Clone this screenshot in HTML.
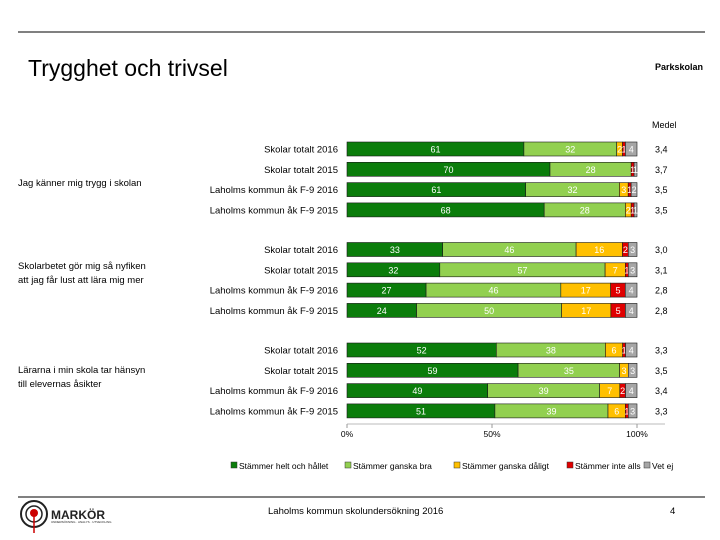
<!DOCTYPE html>
<html><head><meta charset="utf-8"><style>
html,body{margin:0;padding:0;background:#fff}
svg{display:block;font-family:"Liberation Sans",sans-serif}
</style></head><body>
<svg id="chart" width="720" height="540" viewBox="0 0 720 540">
<line x1="18" y1="32" x2="705" y2="32" stroke="#000" stroke-width="1"/>
<text x="28" y="76" font-size="23" fill="#000">Trygghet och trivsel</text>
<text x="655" y="70" font-size="9" font-weight="bold">Parkskolan</text>
<text x="652" y="128" font-size="9">Medel</text>
<text x="18" y="186" font-size="9.5">Jag känner mig trygg i skolan</text>
<text x="18" y="269" font-size="9.5">Skolarbetet gör mig så nyfiken</text>
<text x="18" y="283" font-size="9.5">att jag får lust att lära mig mer</text>
<text x="18" y="373" font-size="9.5">Lärarna i min skola tar hänsyn</text>
<text x="18" y="387" font-size="9.5">till elevernas åsikter</text>
<g id="bars"></g>
<line x1="347" y1="424" x2="665" y2="424" stroke="#bbb"/>
<g id="xticks"></g>
<g id="legend"></g>
<line x1="18" y1="497" x2="705" y2="497" stroke="#000" stroke-width="1"/>
<g>
<circle cx="34" cy="514" r="13" fill="none" stroke="#222" stroke-width="2"/>
<circle cx="34" cy="514" r="8" fill="none" stroke="#222" stroke-width="1.5"/>
<circle cx="34" cy="513" r="4" fill="#c00"/>
<line x1="34" y1="516" x2="34" y2="533" stroke="#c00" stroke-width="1.5"/>
<text x="51" y="519" font-size="12" font-weight="bold" fill="#222">MARKÖR</text>
<text x="51" y="523" font-size="3" fill="#222">UNDERSÖKNING · ANALYS · UTVECKLING</text>
</g>
<text x="268" y="514" font-size="9.5">Laholms kommun skolundersökning 2016</text>
<text x="670" y="514" font-size="9.5">4</text>
</svg>
<script>
const rowLabels = ["Skolar totalt 2016","Skolar totalt 2015","Laholms kommun åk F-9 2016","Laholms kommun åk F-9 2015"];
const helt   = [61,70,61,68, 33,32,27,24, 52,59,49,51];
const ganska = [32,28,32,28, 46,57,46,50, 38,35,39,39];
const daligt = [2,0,3,2, 16,7,17,17, 6,3,7,6];
const inte   = [1,1,1,1, 2,1,5,5, 1,0,2,1];
const vetej  = [4,1,2,1, 3,3,4,4, 4,3,4,3];
const means  = ["3,4","3,7","3,5","3,5","3,0","3,1","2,8","2,8","3,3","3,5","3,4","3,3"];
const tickLabels = ["0%","50%","100%"];
const tickValues = [0,50,100];
const seriesNames = ["Stämmer helt och hållet","Stämmer ganska bra","Stämmer ganska dåligt","Stämmer inte alls","Vet ej"];
const colors = ["#0b7d0b","#92d050","#ffc000","#e00000","#a6a6a6"];
const textColors = ["#fff","#fff","#fff","#fff","#fff"];
const series = [helt,ganska,daligt,inte,vetej];
const NS="http://www.w3.org/2000/svg";
const x0=347, x1=637;
const xs = v => x0 + (x1-x0)*v/100;
const rowY = i => { const g=Math.floor(i/4), r=i%4; return 142 + g*100.5 + r*20.3; };
const barH=14;
function mk(tag,attrs,parent){const e=document.createElementNS(NS,tag);for(const k in attrs)e.setAttribute(k,attrs[k]);parent.appendChild(e);return e;}
const bars=document.getElementById('bars');
for(let i=0;i<helt.length;i++){
  const y=rowY(i);
  const lab=mk('text',{x:338,y:y+10.5,'font-size':9.5,'text-anchor':'end'},bars);
  lab.textContent=rowLabels[i%4];
  
  
  const tot=series.reduce((s,a)=>s+a[i],0);
  let acc=0;
  for(let s=0;s<5;s++){
    const v=series[s][i]; if(v<=0) continue;
    const a=xs(acc*100/tot), b=xs((acc+v)*100/tot);
    const r=mk('rect',{x:a,y:y,width:b-a,height:barH,fill:colors[s],stroke:'#1a1a1a','stroke-width':0.6},bars);
    
    
    const t=mk('text',{x:(a+b)/2,y:y+10.5,'font-size':9,'text-anchor':'middle',fill:textColors[s]},bars);
    t.textContent=v;
    
    
    acc+=v;
  }
  const m=mk('text',{x:655,y:y+10.5,'font-size':9},bars);
  m.textContent=means[i];
  
  
}
const xt=document.getElementById('xticks');
tickValues.forEach((v,k)=>{
  const l=mk('line',{x1:xs(v),x2:xs(v),y1:424,y2:428,stroke:'#999'},xt);
  
  
  const t=mk('text',{x:xs(v),y:437,'font-size':8.5,'text-anchor':'middle'},xt);
  t.textContent=tickLabels[k];
  
  
});
const lg=document.getElementById('legend');
const lx=[231,345,454,567,644];
seriesNames.forEach((n,k)=>{
  const r=mk('rect',{x:lx[k],y:462,width:6,height:6,fill:colors[k],stroke:'#333','stroke-width':0.5},lg);
  
  
  const t=mk('text',{x:lx[k]+8,y:469,'font-size':8.5},lg);
  t.textContent=n;
  
  
});
</script>
</body></html>
